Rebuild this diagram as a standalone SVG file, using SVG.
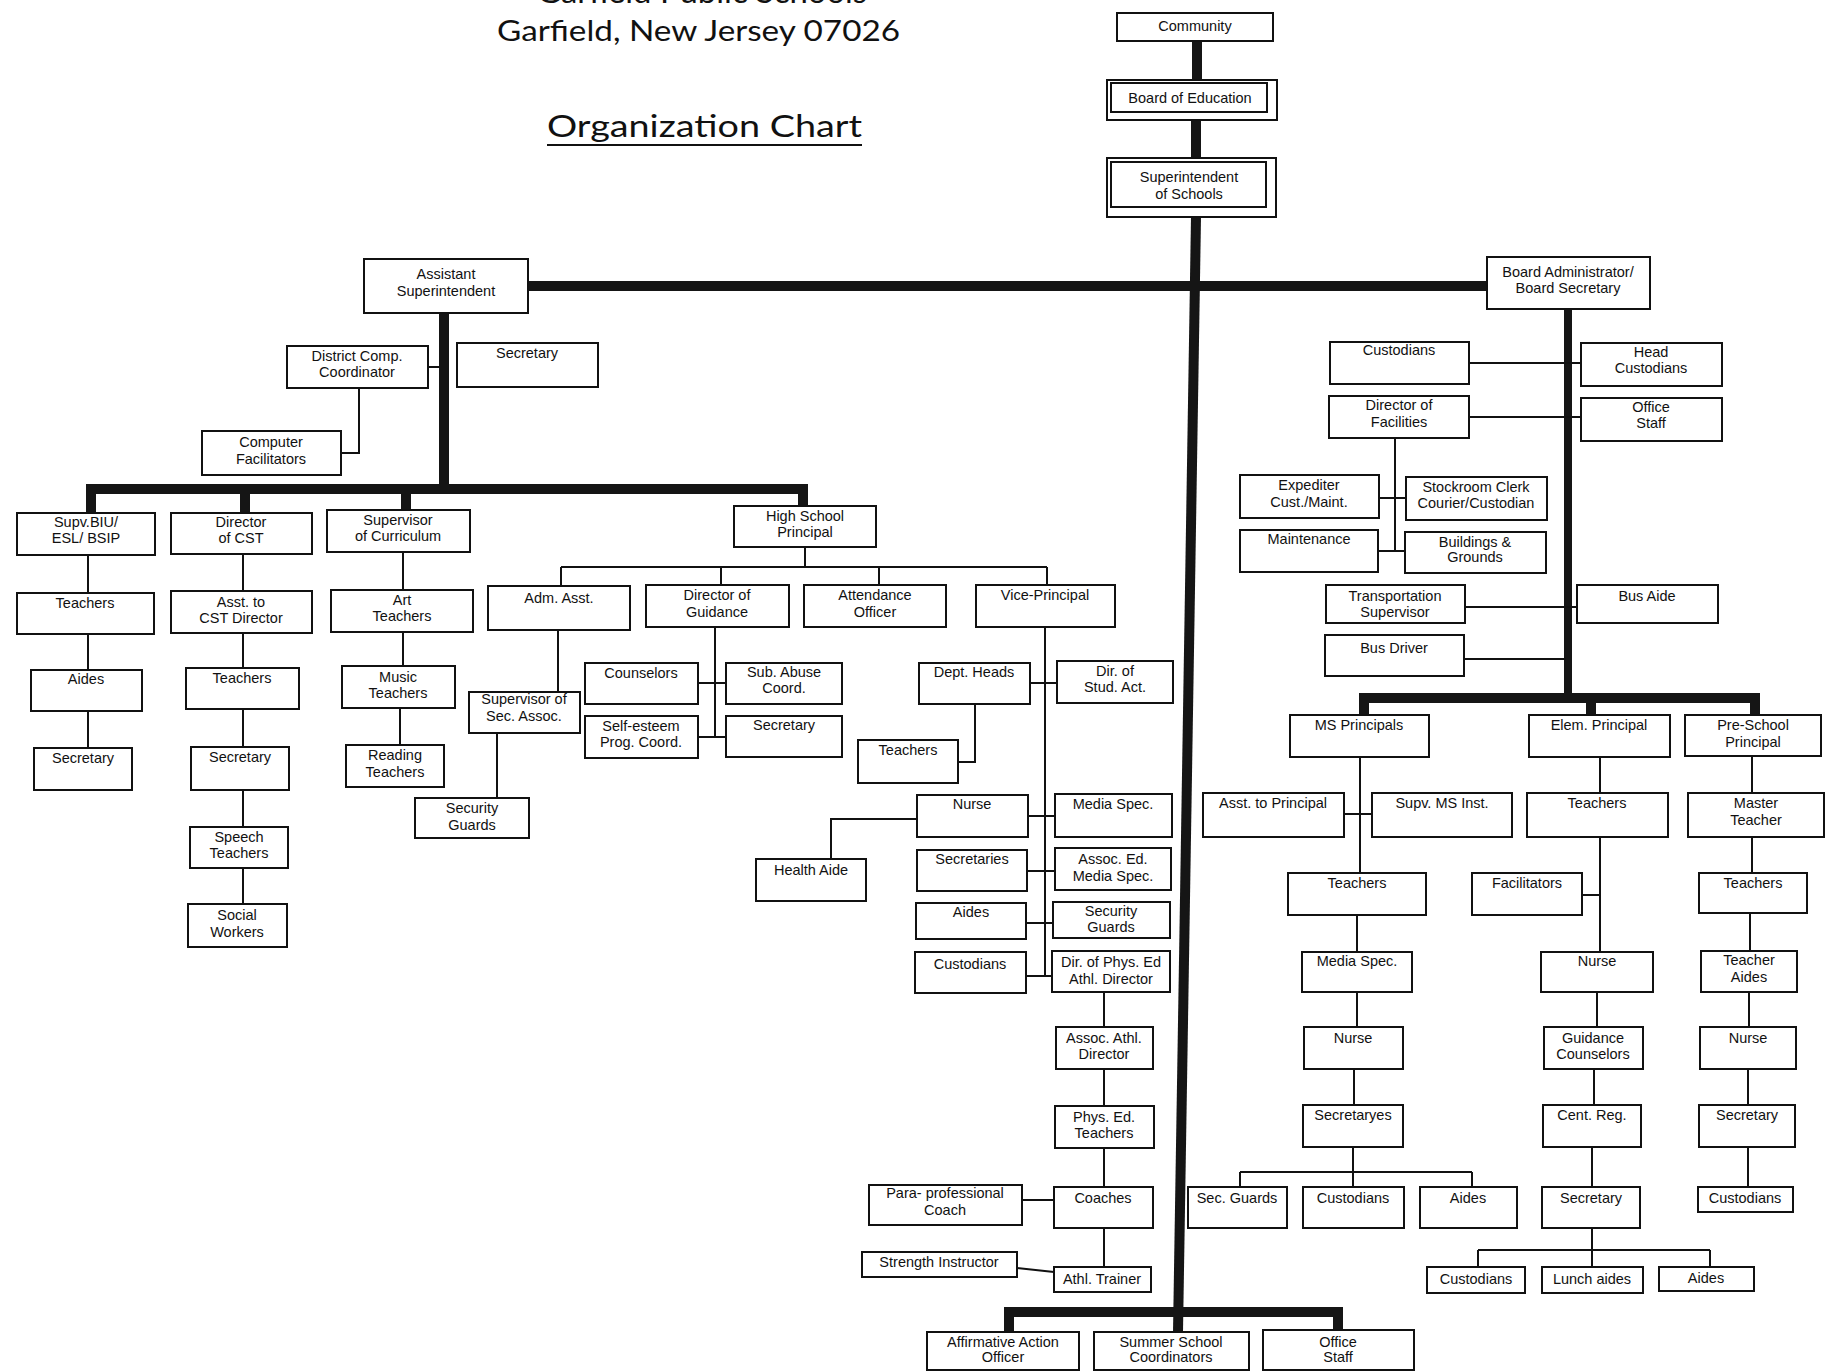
<svg xmlns="http://www.w3.org/2000/svg" width="1835" height="1372" viewBox="0 0 1835 1372">
<style>
.bg{fill:#fff}
.b{fill:#fff;stroke:#111;stroke-width:2}
.t{font-family:"Liberation Sans",Arial,sans-serif;font-size:14.5px;fill:#111;text-anchor:middle}
.ttl{font-family:"Lato","Open Sans",sans-serif;fill:#111}
.c{fill:none;stroke:#111;stroke-width:2}
.k{fill:none;stroke:#151515;stroke-width:10;stroke-linejoin:miter}
.k2{fill:none;stroke:#151515;stroke-width:8}
</style>
<rect class="bg" x="0" y="0" width="1835" height="1372"/>
<g id="title">
<text class="ttl" x="537" y="3" font-size="30" textLength="330" lengthAdjust="spacingAndGlyphs">Garfield Public Schools</text>
<text class="ttl" x="497" y="41" font-size="28" textLength="403" lengthAdjust="spacingAndGlyphs">Garfield, New Jersey 07026</text>
<text class="ttl" x="547" y="137" font-size="31" textLength="315" lengthAdjust="spacingAndGlyphs">Organization Chart</text>
<path class="c" d="M547 145H862"/>
</g>
<g id="connectors">
<path class="k" d="M1197 41V80M1196 120V158"/>
<path class="k" d="M1196 217L1178 1332"/>
<path class="k" d="M528 286H1487"/>
<path class="k" d="M444 313V489"/>
<path class="k" d="M91 513V489H803V506"/>
<path class="k" d="M245 489V513M406 489V510"/>
<path class="k2" d="M1568 309V698"/>
<path class="k" d="M1364 715V698H1755V715M1591 698V715"/>
<path class="k" d="M1009 1332V1312H1338V1330"/>
<path class="c" d="M428 367H440M359 388V453H341"/>
<path class="c" d="M88 555V593M88 634V670M88 711V748"/>
<path class="c" d="M243 554V591M243 633V668M243 709V747M243 790V827M243 868V904"/>
<path class="c" d="M403 552V590M403 632V666M400 708V745"/>
<path class="c" d="M805 547V567M561 567H1047M561 567V586M721 567V585M879 567V585M1047 567V585"/>
<path class="c" d="M715 627V737M698 683H726M698 737H726"/>
<path class="c" d="M558 630V692M497 733V798"/>
<path class="c" d="M1045 627V976M1030 683H1057M1028 816H1055M1027 871H1055M1026 923H1053M1026 976H1052"/>
<path class="c" d="M975 704V762H958M917 819H831V859"/>
<path class="c" d="M1104 992V1027M1104 1069V1106M1104 1148V1187M1104 1228V1267"/>
<path class="c" d="M1022 1200H1054M1017 1268L1054 1272"/>
<path class="c" d="M1469 363H1581M1469 417H1581"/>
<path class="c" d="M1395 438V551M1379 498H1406M1378 551H1405"/>
<path class="c" d="M1465 607H1577M1464 659H1566"/>
<path class="c" d="M1360 757V873M1344 814H1372M1357 915V952M1357 992V1027M1354 1069V1105"/>
<path class="c" d="M1353 1147V1172M1240 1172H1472M1240 1172V1187M1353 1172V1187M1472 1172V1187"/>
<path class="c" d="M1600 757V793M1600 837V952M1582 895H1600M1597 992V1027M1594 1069V1105M1592 1147V1187"/>
<path class="c" d="M1592 1228V1250M1478 1250H1710M1478 1250V1267M1592 1250V1267M1710 1250V1267"/>
<path class="c" d="M1752 756V793M1752 837V873M1750 913V951M1749 992V1027M1748 1069V1105M1748 1147V1187"/>
</g>
<g id="community"><rect class="b" x="1117" y="13" width="156" height="28"/><text class="t" x="1195" y="31">Community</text></g>
<g id="board-of-education"><rect class="b" x="1107" y="80" width="170" height="40"/><rect class="b" x="1111" y="83" width="156" height="29"/><text class="t" x="1190" y="103">Board of Education</text></g>
<g id="superintendent"><rect class="b" x="1107" y="158" width="169" height="59"/><rect class="b" x="1111" y="162" width="155" height="45"/><text class="t"><tspan x="1189" y="182">Superintendent</tspan><tspan x="1189" y="199">of Schools</tspan></text></g>
<g id="asst-superintendent"><rect class="b" x="364" y="259" width="164" height="54"/><text class="t"><tspan x="446" y="279">Assistant</tspan><tspan x="446" y="296">Superintendent</tspan></text></g>
<g id="board-administrator"><rect class="b" x="1487" y="257" width="163" height="52"/><text class="t"><tspan x="1568" y="277">Board Administrator/</tspan><tspan x="1568" y="293">Board Secretary</tspan></text></g>
<g id="district-comp"><rect class="b" x="287" y="346" width="141" height="42"/><text class="t"><tspan x="357" y="361">District Comp.</tspan><tspan x="357" y="377">Coordinator</tspan></text></g>
<g id="secretary-asst"><rect class="b" x="457" y="343" width="141" height="44"/><text class="t" x="527" y="358">Secretary</text></g>
<g id="computer-facilitators"><rect class="b" x="202" y="431" width="139" height="44"/><text class="t"><tspan x="271" y="447">Computer</tspan><tspan x="271" y="464">Facilitators</tspan></text></g>
<g id="supv-biu"><rect class="b" x="17" y="513" width="138" height="42"/><text class="t"><tspan x="86" y="527">Supv.BIU/</tspan><tspan x="86" y="543">ESL/ BSIP</tspan></text></g>
<g id="director-cst"><rect class="b" x="171" y="513" width="141" height="41"/><text class="t"><tspan x="241" y="527">Director</tspan><tspan x="241" y="543">of CST</tspan></text></g>
<g id="supervisor-curriculum"><rect class="b" x="327" y="510" width="143" height="42"/><text class="t"><tspan x="398" y="525">Supervisor</tspan><tspan x="398" y="541">of Curriculum</tspan></text></g>
<g id="teachers-biu"><rect class="b" x="17" y="593" width="137" height="41"/><text class="t" x="85" y="608">Teachers</text></g>
<g id="asst-cst"><rect class="b" x="171" y="591" width="141" height="42"/><text class="t"><tspan x="241" y="607">Asst. to</tspan><tspan x="241" y="623">CST Director</tspan></text></g>
<g id="art-teachers"><rect class="b" x="331" y="590" width="142" height="42"/><text class="t"><tspan x="402" y="605">Art</tspan><tspan x="402" y="621">Teachers</tspan></text></g>
<g id="aides-biu"><rect class="b" x="31" y="670" width="111" height="41"/><text class="t" x="86" y="684">Aides</text></g>
<g id="teachers-cst"><rect class="b" x="186" y="668" width="113" height="41"/><text class="t" x="242" y="683">Teachers</text></g>
<g id="music-teachers"><rect class="b" x="342" y="666" width="113" height="42"/><text class="t"><tspan x="398" y="682">Music</tspan><tspan x="398" y="698">Teachers</tspan></text></g>
<g id="secretary-biu"><rect class="b" x="34" y="748" width="98" height="42"/><text class="t" x="83" y="763">Secretary</text></g>
<g id="secretary-cst"><rect class="b" x="191" y="747" width="98" height="43"/><text class="t" x="240" y="762">Secretary</text></g>
<g id="reading-teachers"><rect class="b" x="346" y="745" width="98" height="42"/><text class="t"><tspan x="395" y="760">Reading</tspan><tspan x="395" y="777">Teachers</tspan></text></g>
<g id="speech-teachers"><rect class="b" x="190" y="827" width="98" height="41"/><text class="t"><tspan x="239" y="842">Speech</tspan><tspan x="239" y="858">Teachers</tspan></text></g>
<g id="social-workers"><rect class="b" x="188" y="904" width="99" height="43"/><text class="t"><tspan x="237" y="920">Social</tspan><tspan x="237" y="937">Workers</tspan></text></g>
<g id="hs-principal"><rect class="b" x="734" y="506" width="142" height="41"/><text class="t"><tspan x="805" y="521">High School</tspan><tspan x="805" y="537">Principal</tspan></text></g>
<g id="adm-asst"><rect class="b" x="488" y="586" width="142" height="44"/><text class="t" x="559" y="603">Adm. Asst.</text></g>
<g id="director-guidance"><rect class="b" x="646" y="585" width="143" height="42"/><text class="t"><tspan x="717" y="600">Director of</tspan><tspan x="717" y="617">Guidance</tspan></text></g>
<g id="attendance-officer"><rect class="b" x="804" y="585" width="142" height="42"/><text class="t"><tspan x="875" y="600">Attendance</tspan><tspan x="875" y="617">Officer</tspan></text></g>
<g id="vice-principal"><rect class="b" x="976" y="585" width="139" height="42"/><text class="t" x="1045" y="600">Vice-Principal</text></g>
<g id="counselors"><rect class="b" x="585" y="663" width="113" height="41"/><text class="t" x="641" y="678">Counselors</text></g>
<g id="sub-abuse"><rect class="b" x="726" y="663" width="116" height="41"/><text class="t"><tspan x="784" y="677">Sub. Abuse</tspan><tspan x="784" y="693">Coord.</tspan></text></g>
<g id="self-esteem"><rect class="b" x="585" y="716" width="113" height="42"/><text class="t"><tspan x="641" y="731">Self-esteem</tspan><tspan x="641" y="747">Prog. Coord.</tspan></text></g>
<g id="secretary-guidance"><rect class="b" x="726" y="716" width="116" height="41"/><text class="t" x="784" y="730">Secretary</text></g>
<g id="supervisor-sec-assoc"><rect class="b" x="469" y="692" width="111" height="41"/><text class="t"><tspan x="524" y="704">Supervisor of</tspan><tspan x="524" y="721">Sec. Assoc.</tspan></text></g>
<g id="security-guards-assoc"><rect class="b" x="415" y="798" width="114" height="40"/><text class="t"><tspan x="472" y="813">Security</tspan><tspan x="472" y="830">Guards</tspan></text></g>
<g id="dept-heads"><rect class="b" x="919" y="663" width="111" height="41"/><text class="t" x="974" y="677">Dept. Heads</text></g>
<g id="dir-stud-act"><rect class="b" x="1057" y="661" width="116" height="42"/><text class="t"><tspan x="1115" y="676">Dir. of</tspan><tspan x="1115" y="692">Stud. Act.</tspan></text></g>
<g id="teachers-dept"><rect class="b" x="858" y="740" width="100" height="43"/><text class="t" x="908" y="755">Teachers</text></g>
<g id="nurse-hs"><rect class="b" x="917" y="795" width="111" height="42"/><text class="t" x="972" y="809">Nurse</text></g>
<g id="media-spec-hs"><rect class="b" x="1055" y="794" width="117" height="43"/><text class="t" x="1113" y="809">Media Spec.</text></g>
<g id="health-aide"><rect class="b" x="756" y="859" width="110" height="42"/><text class="t" x="811" y="875">Health Aide</text></g>
<g id="secretaries-hs"><rect class="b" x="917" y="850" width="110" height="41"/><text class="t" x="972" y="864">Secretaries</text></g>
<g id="assoc-ed-media"><rect class="b" x="1055" y="848" width="116" height="42"/><text class="t"><tspan x="1113" y="864">Assoc. Ed.</tspan><tspan x="1113" y="881">Media Spec.</tspan></text></g>
<g id="aides-hs"><rect class="b" x="916" y="903" width="110" height="36"/><text class="t" x="971" y="917">Aides</text></g>
<g id="security-guards-hs"><rect class="b" x="1053" y="902" width="117" height="36"/><text class="t"><tspan x="1111" y="916">Security</tspan><tspan x="1111" y="932">Guards</tspan></text></g>
<g id="custodians-hs"><rect class="b" x="915" y="952" width="111" height="41"/><text class="t" x="970" y="969">Custodians</text></g>
<g id="dir-phys-ed"><rect class="b" x="1052" y="951" width="118" height="41"/><text class="t"><tspan x="1111" y="967">Dir. of Phys. Ed</tspan><tspan x="1111" y="984">Athl. Director</tspan></text></g>
<g id="assoc-athl-director"><rect class="b" x="1056" y="1027" width="97" height="42"/><text class="t"><tspan x="1104" y="1043">Assoc. Athl.</tspan><tspan x="1104" y="1059">Director</tspan></text></g>
<g id="phys-ed-teachers"><rect class="b" x="1055" y="1106" width="99" height="42"/><text class="t"><tspan x="1104" y="1122">Phys. Ed.</tspan><tspan x="1104" y="1138">Teachers</tspan></text></g>
<g id="para-professional-coach"><rect class="b" x="869" y="1185" width="153" height="40"/><text class="t"><tspan x="945" y="1198">Para- professional</tspan><tspan x="945" y="1215">Coach</tspan></text></g>
<g id="coaches"><rect class="b" x="1054" y="1187" width="99" height="41"/><text class="t" x="1103" y="1203">Coaches</text></g>
<g id="strength-instructor"><rect class="b" x="862" y="1252" width="155" height="25"/><text class="t" x="939" y="1267">Strength Instructor</text></g>
<g id="athl-trainer"><rect class="b" x="1054" y="1267" width="97" height="25"/><text class="t" x="1102" y="1284">Athl. Trainer</text></g>
<g id="affirmative-action"><rect class="b" x="927" y="1332" width="152" height="38"/><text class="t"><tspan x="1003" y="1347">Affirmative Action</tspan><tspan x="1003" y="1362">Officer</tspan></text></g>
<g id="summer-school"><rect class="b" x="1094" y="1332" width="155" height="38"/><text class="t"><tspan x="1171" y="1347">Summer School</tspan><tspan x="1171" y="1362">Coordinators</tspan></text></g>
<g id="office-staff-bottom"><rect class="b" x="1263" y="1330" width="151" height="40"/><text class="t"><tspan x="1338" y="1347">Office</tspan><tspan x="1338" y="1362">Staff</tspan></text></g>
<g id="custodians-board"><rect class="b" x="1330" y="342" width="139" height="42"/><text class="t" x="1399" y="355">Custodians</text></g>
<g id="head-custodians"><rect class="b" x="1581" y="343" width="141" height="43"/><text class="t"><tspan x="1651" y="357">Head</tspan><tspan x="1651" y="373">Custodians</tspan></text></g>
<g id="director-facilities"><rect class="b" x="1329" y="396" width="140" height="42"/><text class="t"><tspan x="1399" y="410">Director of</tspan><tspan x="1399" y="427">Facilities</tspan></text></g>
<g id="office-staff-board"><rect class="b" x="1581" y="398" width="141" height="43"/><text class="t"><tspan x="1651" y="412">Office</tspan><tspan x="1651" y="428">Staff</tspan></text></g>
<g id="expediter"><rect class="b" x="1240" y="475" width="139" height="43"/><text class="t"><tspan x="1309" y="490">Expediter</tspan><tspan x="1309" y="507">Cust./Maint.</tspan></text></g>
<g id="stockroom"><rect class="b" x="1406" y="477" width="141" height="43"/><text class="t"><tspan x="1476" y="492">Stockroom Clerk</tspan><tspan x="1476" y="508">Courier/Custodian</tspan></text></g>
<g id="maintenance"><rect class="b" x="1240" y="530" width="138" height="42"/><text class="t" x="1309" y="544">Maintenance</text></g>
<g id="buildings-grounds"><rect class="b" x="1405" y="532" width="141" height="41"/><text class="t"><tspan x="1475" y="547">Buildings &amp;</tspan><tspan x="1475" y="562">Grounds</tspan></text></g>
<g id="transportation"><rect class="b" x="1326" y="585" width="139" height="38"/><text class="t"><tspan x="1395" y="601">Transportation</tspan><tspan x="1395" y="617">Supervisor</tspan></text></g>
<g id="bus-aide"><rect class="b" x="1577" y="585" width="141" height="38"/><text class="t" x="1647" y="601">Bus Aide</text></g>
<g id="bus-driver"><rect class="b" x="1325" y="635" width="139" height="41"/><text class="t" x="1394" y="653">Bus Driver</text></g>
<g id="ms-principals"><rect class="b" x="1290" y="715" width="139" height="42"/><text class="t" x="1359" y="730">MS Principals</text></g>
<g id="elem-principal"><rect class="b" x="1529" y="715" width="141" height="42"/><text class="t" x="1599" y="730">Elem. Principal</text></g>
<g id="preschool-principal"><rect class="b" x="1685" y="715" width="136" height="41"/><text class="t"><tspan x="1753" y="730">Pre-School</tspan><tspan x="1753" y="747">Principal</tspan></text></g>
<g id="asst-principal"><rect class="b" x="1203" y="793" width="141" height="44"/><text class="t" x="1273" y="808">Asst. to Principal</text></g>
<g id="supv-ms-inst"><rect class="b" x="1372" y="793" width="140" height="44"/><text class="t" x="1442" y="808">Supv. MS Inst.</text></g>
<g id="teachers-elem"><rect class="b" x="1527" y="793" width="141" height="44"/><text class="t" x="1597" y="808">Teachers</text></g>
<g id="master-teacher"><rect class="b" x="1688" y="793" width="136" height="44"/><text class="t"><tspan x="1756" y="808">Master</tspan><tspan x="1756" y="825">Teacher</tspan></text></g>
<g id="teachers-ms"><rect class="b" x="1288" y="873" width="138" height="42"/><text class="t" x="1357" y="888">Teachers</text></g>
<g id="facilitators"><rect class="b" x="1472" y="873" width="110" height="42"/><text class="t" x="1527" y="888">Facilitators</text></g>
<g id="teachers-pre"><rect class="b" x="1699" y="873" width="108" height="40"/><text class="t" x="1753" y="888">Teachers</text></g>
<g id="media-spec-ms"><rect class="b" x="1302" y="952" width="110" height="40"/><text class="t" x="1357" y="966">Media Spec.</text></g>
<g id="nurse-elem"><rect class="b" x="1541" y="952" width="112" height="40"/><text class="t" x="1597" y="966">Nurse</text></g>
<g id="teacher-aides"><rect class="b" x="1701" y="951" width="96" height="41"/><text class="t"><tspan x="1749" y="965">Teacher</tspan><tspan x="1749" y="982">Aides</tspan></text></g>
<g id="nurse-ms"><rect class="b" x="1304" y="1027" width="99" height="42"/><text class="t" x="1353" y="1043">Nurse</text></g>
<g id="guidance-counselors"><rect class="b" x="1544" y="1027" width="99" height="42"/><text class="t"><tspan x="1593" y="1043">Guidance</tspan><tspan x="1593" y="1059">Counselors</tspan></text></g>
<g id="nurse-pre"><rect class="b" x="1700" y="1027" width="96" height="42"/><text class="t" x="1748" y="1043">Nurse</text></g>
<g id="secretaryes-ms"><rect class="b" x="1303" y="1105" width="100" height="42"/><text class="t" x="1353" y="1120">Secretaryes</text></g>
<g id="cent-reg"><rect class="b" x="1543" y="1105" width="98" height="42"/><text class="t" x="1592" y="1120">Cent. Reg.</text></g>
<g id="secretary-pre"><rect class="b" x="1699" y="1105" width="96" height="42"/><text class="t" x="1747" y="1120">Secretary</text></g>
<g id="sec-guards-ms"><rect class="b" x="1188" y="1187" width="99" height="41"/><text class="t" x="1237" y="1203">Sec. Guards</text></g>
<g id="custodians-ms"><rect class="b" x="1303" y="1187" width="101" height="41"/><text class="t" x="1353" y="1203">Custodians</text></g>
<g id="aides-ms"><rect class="b" x="1420" y="1187" width="97" height="41"/><text class="t" x="1468" y="1203">Aides</text></g>
<g id="secretary-elem"><rect class="b" x="1542" y="1187" width="98" height="41"/><text class="t" x="1591" y="1203">Secretary</text></g>
<g id="custodians-pre"><rect class="b" x="1698" y="1187" width="95" height="25"/><text class="t" x="1745" y="1203">Custodians</text></g>
<g id="custodians-elem"><rect class="b" x="1427" y="1267" width="98" height="26"/><text class="t" x="1476" y="1284">Custodians</text></g>
<g id="lunch-aides"><rect class="b" x="1542" y="1267" width="101" height="26"/><text class="t" x="1592" y="1284">Lunch aides</text></g>
<g id="aides-elem"><rect class="b" x="1659" y="1267" width="95" height="24"/><text class="t" x="1706" y="1283">Aides</text></g>
</svg>
